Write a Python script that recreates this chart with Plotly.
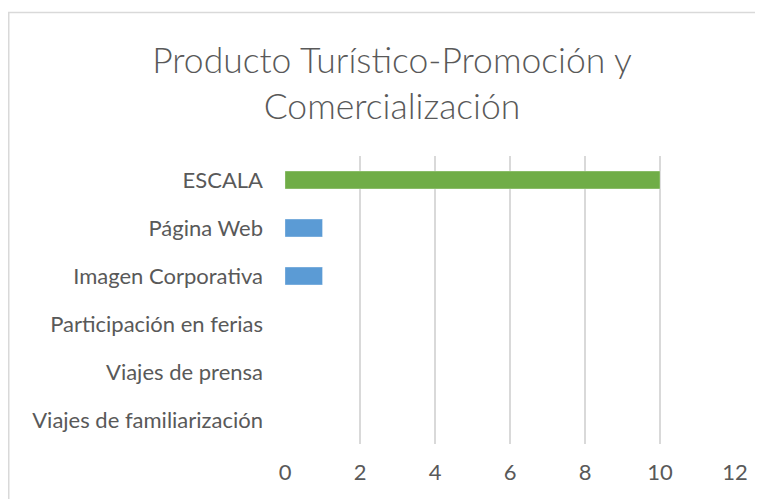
import plotly.graph_objects as go

categories = ["Viajes de familiarización", "Viajes de prensa", "Participación en ferias",
              "Imagen Corporativa", "Página Web", "ESCALA"]
values = [0, 0, 0, 1, 1, 10]
bar_colors = ["#5B9BD5", "#5B9BD5", "#5B9BD5", "#5B9BD5", "#5B9BD5", "#70AD47"]
x_ticks = [0, 2, 4, 6, 8, 10, 12]
title_text = "Producto Turístico-Promoción y<br>Comercialización"

# page body has an 8px margin, so the figure is offset by 8px
W, H = 755, 491
ml, mr, mt, mb = 277, 28, 148, 55
pw, ph = W - ml - mr, H - mt - mb

fig = go.Figure(go.Bar(
    y=categories, x=values, orientation="h",
    marker=dict(color=bar_colors, line=dict(color="rgba(255,255,255,0.3)", width=1)),
    width=0.37,
))

def px2x(p):
    return (p - ml) / pw

def py2y(p):
    return 1 + (mt - p) / ph

fig.add_shape(type="rect", xref="paper", yref="paper",
              x0=px2x(0.75), x1=px2x(790), y0=py2y(530), y1=py2y(4.5),
              line=dict(color="#d9d9d9", width=1.5), fillcolor="rgba(0,0,0,0)", layer="below")

fig.update_layout(
    width=W, height=H,
    margin=dict(l=ml, r=mr, t=mt, b=mb),
    paper_bgcolor="white", plot_bgcolor="white",
    font=dict(family="Lato", color="#595959", size=22),
    title=dict(text=title_text, x=384 / W, xanchor="center", xref="container",
               y=1 - 65 / H, yanchor="middle", yref="container",
               font=dict(family="Lato", size=35.5, color="#595959", weight=300)),
    showlegend=False,
)
fig.update_xaxes(range=[0, 12], tickvals=x_ticks, showgrid=True, gridcolor="#d9d9d9", gridwidth=1.5,
                 zeroline=False, showline=False, ticks="", ticklabelstandoff=13,
                 tickfont=dict(size=22, color="#595959"))
fig.update_yaxes(showgrid=False, zeroline=False, showline=False, ticks="",
                 ticklabelstandoff=21, tickfont=dict(size=22, color="#595959"))

fig.write_html("out.html")
